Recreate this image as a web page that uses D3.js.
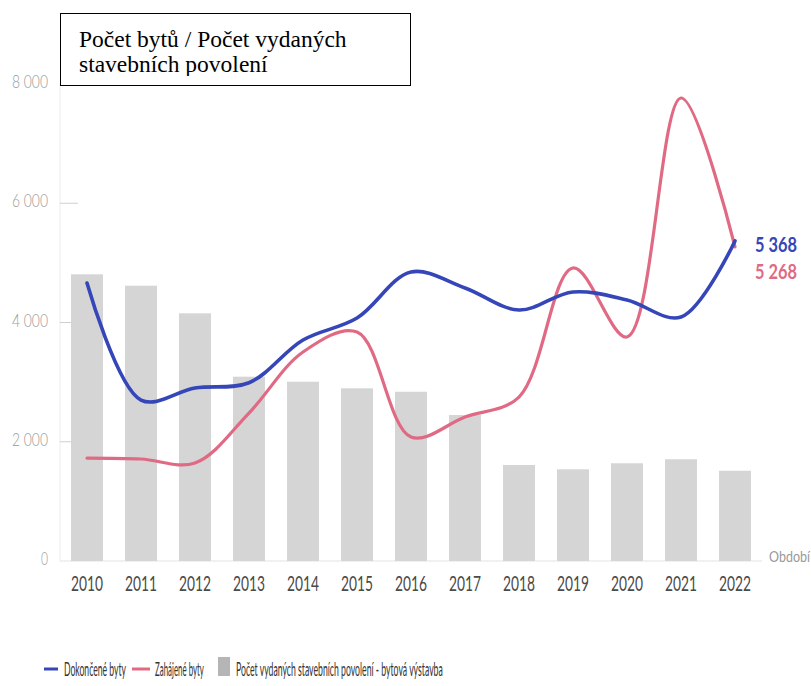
<!DOCTYPE html>
<html><head><meta charset="utf-8">
<script src="https://cdn.jsdelivr.net/npm/d3@7"></script>
<style>html,body{margin:0;padding:0;background:#fff;}svg{display:block;}</style>
</head><body>
<svg id="c" width="811" height="686"></svg>
<script>
const years = ["2010","2011","2012","2013","2014","2015","2016","2017","2018","2019","2020","2021","2022"];
const permits = [4808,4617,4154,3091,3007,2896,2839,2449,1610,1538,1639,1706,1514];
const completed = [4662,2700,2901,2990,3706,4075,4847,4579,4210,4512,4377,4092,5368];
const started = [1727,1711,1644,2482,3505,3841,2080,2415,2750,4914,3757,7765,5268];
const yTicks = [0,2000,4000,6000,8000];
const titleLines = ["Počet bytů / Počet vydaných","stavebních povolení"];
const legendLabels = ["Dokončené byty","Zahájené byty","Počet vydaných stavebních povolení  - bytová výstavba"];
const axisLabel = "Období";

const svg = d3.select("#c");
const BLUE = "#3546b8", PINK = "#e06a84", BAR = "#d5d5d5";
const FONT = "Lato, 'Noto Sans', sans-serif";
const fmt = v => v === 0 ? "0" : d3.format(",")(v).replace(",", " ");

const x = d3.scaleBand().domain(years).range([60, 762]).paddingInner(0.407).paddingOuter(0.2035);
const y = d3.scaleLinear().domain([0, 8000]).range([561, 84]);
const cx = d => x(d) + x.bandwidth() / 2;

function squeeze(sel, px, py, width, anchor) {
  const node = sel.node();
  const w = node.getComputedTextLength();
  const s = width / w;
  let tx = px;
  if (anchor === "middle") tx = px - width / 2;
  if (anchor === "end") tx = px - width;
  sel.attr("x", 0).attr("y", 0).attr("text-anchor", "start")
    .attr("transform", `translate(${tx},${py}) scale(${s},1)`);
}

svg.append("line").attr("x1", 60).attr("x2", 60).attr("y1", 84).attr("y2", 561)
  .attr("stroke", "#ececec").attr("stroke-width", 1);
svg.append("line").attr("x1", 60).attr("x2", 762).attr("y1", y(0)).attr("y2", y(0))
  .attr("stroke", "#ececec").attr("stroke-width", 1.5);

const yAxis = svg.append("g");
yTicks.forEach(t => {
  if (t > 0) yAxis.append("line").attr("x1", 60).attr("x2", 78).attr("y1", y(t)).attr("y2", y(t))
    .attr("stroke", "#cfcfcf").attr("stroke-width", 1);
  const tx = yAxis.append("text").attr("font-family", FONT).attr("font-size", 18).attr("font-weight", 300)
    .attr("fill", "#999").text(fmt(t));
  squeeze(tx, 48, y(t) + 4, t === 0 ? 7 : 36, "end");
});

svg.append("g").selectAll("rect").data(years).join("rect")
  .attr("x", d => x(d)).attr("width", x.bandwidth())
  .attr("y", (d, i) => y(permits[i])).attr("height", (d, i) => y(0) - y(permits[i]))
  .attr("fill", BAR);

const xg = svg.append("g");
years.forEach(d => {
  const t = xg.append("text").attr("font-family", FONT).attr("font-size", 22)
    .attr("fill", "#4a4a4a").text(d);
  squeeze(t, cx(d), 591, 32, "middle");
});

const ob = svg.append("text").attr("font-family", FONT).attr("font-size", 15)
  .attr("fill", "#999").text(axisLabel);
squeeze(ob, 769, 562, 41, "start");

const line = d3.line().x((d, i) => cx(years[i])).y(d => y(d)).curve(d3.curveCatmullRom.alpha(0.5));
svg.append("path").attr("d", line(started)).attr("fill", "none")
  .attr("stroke", PINK).attr("stroke-width", 3.2).attr("stroke-linecap", "round");
svg.append("path").attr("d", line(completed)).attr("fill", "none")
  .attr("stroke", BLUE).attr("stroke-width", 3.6).attr("stroke-linecap", "round");

const e1 = svg.append("text").attr("font-family", FONT).attr("font-size", 21).attr("font-weight", 700)
  .attr("fill", BLUE).text(fmt(completed[completed.length - 1]));
squeeze(e1, 755, 252, 42, "start");
const e2 = svg.append("text").attr("font-family", FONT).attr("font-size", 21).attr("font-weight", 700)
  .attr("fill", PINK).text(fmt(started[started.length - 1]));
squeeze(e2, 755, 279, 42, "start");

svg.append("defs").append("clipPath").attr("id", "tclip")
  .append("rect").attr("x", 60).attr("y", 13).attr("width", 351).attr("height", 63);
svg.append("rect").attr("x", 60.5).attr("y", 13.5).attr("width", 350).attr("height", 72)
  .attr("fill", "#fff").attr("stroke", "#000").attr("stroke-width", 1);
const tg = svg.append("g").attr("clip-path", "url(#tclip)");
titleLines.forEach((t, i) => {
  tg.append("text").attr("x", 79).attr("y", 47 + i * 25)
    .attr("font-family", "'Liberation Serif', 'Times New Roman', serif").attr("font-size", 23.5)
    .attr("fill", "#000").text(t);
});

const lg = svg.append("g");
const LY = 669;
lg.append("line").attr("x1", 44).attr("x2", 58).attr("y1", LY).attr("y2", LY).attr("stroke", BLUE).attr("stroke-width", 3);
squeeze(lg.append("text").attr("font-family", FONT).attr("font-size", 20).attr("fill", "#333").text(legendLabels[0]), 64, LY + 7, 62, "start");
lg.append("line").attr("x1", 132).attr("x2", 150).attr("y1", LY).attr("y2", LY).attr("stroke", PINK).attr("stroke-width", 3);
squeeze(lg.append("text").attr("font-family", FONT).attr("font-size", 20).attr("fill", "#333").text(legendLabels[1]), 155, LY + 7, 49, "start");
lg.append("rect").attr("x", 218).attr("y", 657).attr("width", 12).attr("height", 19).attr("fill", "#b5b5b5");
squeeze(lg.append("text").attr("font-family", FONT).attr("font-size", 20).attr("fill", "#333").text(legendLabels[2]), 236, LY + 7, 207, "start");
</script>
</body></html>
